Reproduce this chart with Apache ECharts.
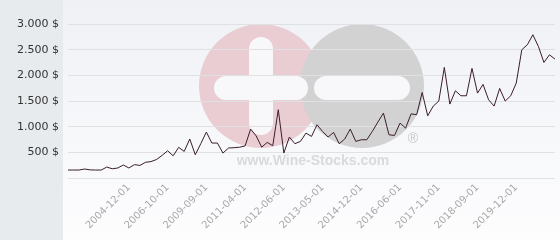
<!DOCTYPE html>
<html><head><meta charset="utf-8">
<script src="https://cdn.jsdelivr.net/npm/echarts@6/dist/echarts.min.js"></script>
<style>html,body{margin:0;padding:0;background:#fff}#c{width:560px;height:240px}</style>
</head><body><div id="c"></div>
<script>
var categories = [
'2003-01-01','2003-03-01','2003-05-01','2003-07-01','2003-09-01','2003-11-01','2004-01-01','2004-03-01','2004-05-01','2004-07-01',
'2004-10-01','2004-12-01','2005-03-01','2005-06-01','2005-09-01','2005-12-01','2006-03-01','2006-06-01','2006-10-01','2007-03-01',
'2007-08-01','2008-01-01','2008-06-01','2008-11-01','2009-04-01','2009-09-01','2009-12-01','2010-02-01','2010-05-01','2010-08-01',
'2010-10-01','2011-01-01','2011-04-01','2011-06-01','2011-08-01','2011-10-01','2011-12-01','2012-02-01','2012-04-01','2012-06-01',
'2012-07-01','2012-09-01','2012-10-01','2012-12-01','2013-01-01','2013-03-01','2013-05-01','2013-08-01','2013-10-01','2014-01-01',
'2014-04-01','2014-06-01','2014-09-01','2014-12-01','2015-02-01','2015-05-01','2015-07-01','2015-10-01','2015-12-01','2016-03-01',
'2016-06-01','2016-08-01','2016-11-01','2017-01-01','2017-03-01','2017-06-01','2017-08-01','2017-11-01','2017-12-01','2018-02-01',
'2018-03-01','2018-05-01','2018-06-01','2018-08-01','2018-09-01','2018-11-01','2019-01-01','2019-03-01','2019-05-01','2019-07-01',
'2019-10-01','2019-12-01','2020-03-01','2020-06-01','2020-09-01','2020-12-01','2021-03-01','2021-06-01','2021-09-01'
];
var prices = [
155,155,155,175,158,155,155,213,180,195,
253,195,260,245,305,320,360,440,530,433,
597,518,760,453,670,895,681,681,486,584,
590,600,625,953,820,601,693,629,1330,486,
798,668,713,875,810,1037,907,798,888,668,
759,953,713,745,745,910,1090,1265,842,829,
1070,972,1251,1232,1666,1212,1401,1499,2154,1440,
1699,1602,1602,2135,1654,1823,1524,1401,1745,1499,
1602,1849,2498,2595,2790,2563,2251,2400,2316
];
var tickLabels = ['2004-12-01','2006-10-01','2009-09-01','2011-04-01','2012-06-01','2013-05-01','2014-12-01','2016-06-01','2017-11-01','2018-09-01','2019-12-01'];
var yTicks = [0,500,1000,1500,2000,2500,3000];

var logoSvg = '<svg xmlns="http://www.w3.org/2000/svg" width="560" height="240" viewBox="0 0 560 240">' +
  '<circle cx="261" cy="86" r="62" fill="#eacdd3"/>' +
  '<circle cx="362" cy="86" r="62" fill="#d2d2d3"/>' +
  '<rect x="249" y="37" width="24" height="98" rx="12" fill="#f8f8fa"/>' +
  '<rect x="214" y="76" width="94" height="24" rx="12" fill="#f8f8fa"/>' +
  '<rect x="314" y="76" width="96" height="24" rx="12" fill="#f8f8fa"/>' +
  '</svg>';
var logoUrl = 'data:image/svg+xml;charset=utf-8,' + encodeURIComponent(logoSvg);

var chart = echarts.init(document.getElementById('c'), null, {renderer:'canvas'});
function fmt(v){ if(v===0) return ''; var s=String(v); return (s.length>3? s.slice(0,s.length-3)+'.'+s.slice(-3) : s)+' $'; }
chart.setOption({
  animation:false,
  graphic:[
    {type:'rect', z:-10, shape:{x:0,y:0,width:63,height:240}, style:{fill:'#e7ebee'}, silent:true},
    {type:'rect', z:-10, shape:{x:63,y:0,width:497,height:240}, style:{fill:new echarts.graphic.LinearGradient(0,0,0,1,[{offset:0,color:'#eff1f5'},{offset:1,color:'#fdfdfe'}])}, silent:true},
    {type:'image', z:-9, style:{image:logoUrl, x:0, y:0, width:560, height:240}, silent:true},
    {type:'text', z:-6, x:413, y:139, style:{text:'®', fill:'#c8c8c8', font:'14px "Liberation Sans"', align:'center', verticalAlign:'middle'}, silent:true},
    {type:'text', z:-6, x:313, y:161, style:{text:'www.Wine-Stocks.com', fill:'#d9dadd', font:'bold 14px "Liberation Sans"', align:'center', verticalAlign:'middle'}, silent:true}
  ],
  grid:{left:68, right:5, top:24, bottom:62, containLabel:false},
  xAxis:{
    type:'category', data:categories, boundaryGap:false,
    axisLine:{show:false}, axisTick:{show:false},
    axisLabel:{rotate:45, color:'#a8a8a8', fontSize:10, fontFamily:'DejaVu Sans', margin:8,
      interval:function(i,v){ return tickLabels.indexOf(v)>=0; }},
    splitLine:{show:false}
  },
  yAxis:{
    type:'value', min:yTicks[0], max:yTicks[yTicks.length-1], interval:500, z:5,
    axisLine:{show:false}, axisTick:{show:false},
    axisLabel:{color:'#333', fontSize:11, fontFamily:'DejaVu Sans', margin:9, formatter:fmt},
    splitLine:{show:true, lineStyle:{color:'#e0e1e4', width:1}}
  },
  series:[{type:'line', data:prices, symbol:'none', z:6, lineStyle:{color:'#3a1d2c', width:1}}]
});
</script></body></html>
